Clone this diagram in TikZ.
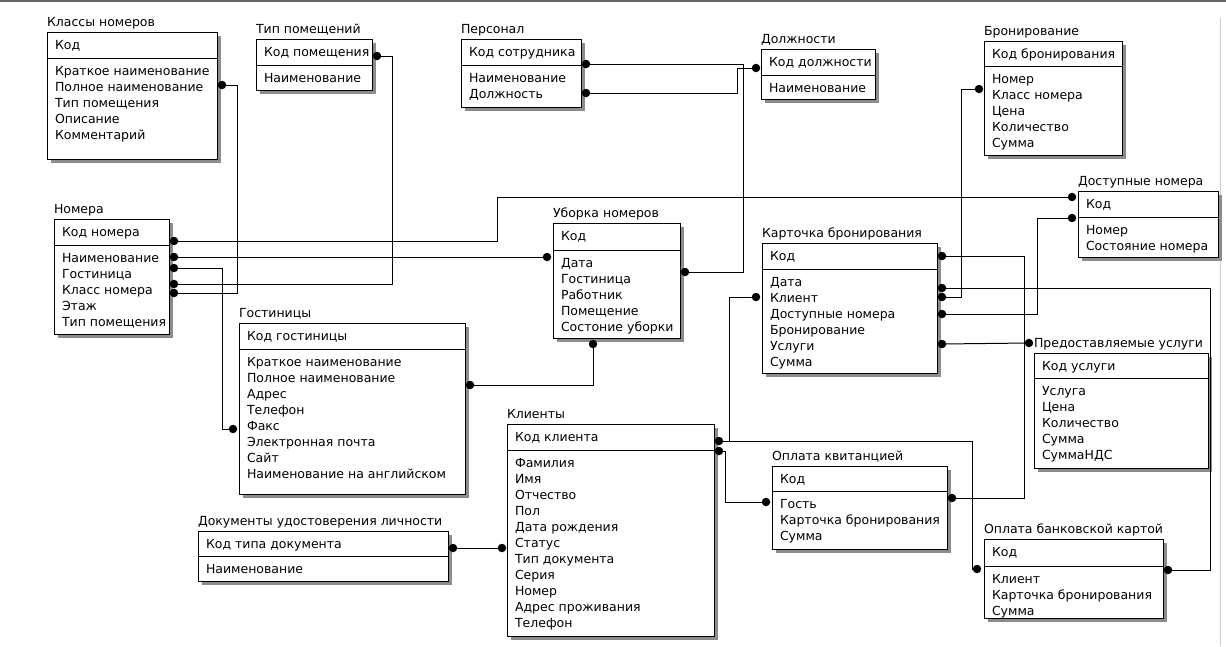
\documentclass[tikz,border=0pt]{standalone}
\usepackage{fontspec}
\setmainfont{DejaVu Sans}
\tikzset{
 tabbox/.style={draw, line width=1pt, fill=white, inner sep=0pt, outer sep=0pt},
 shadowc/.style={fill=black!45},
 txt/.style={inner sep=0pt, outer sep=0pt, anchor=base west, font=\fontsize{12.5}{16}\selectfont},
 dotn/.style={circle, fill=black, inner sep=0pt, outer sep=0pt, minimum size=8.5pt},
 conn/.style={line width=1pt},
}
\newcommand\ertab[9]{%
 \fill[shadowc] (#2+4,#3+4) rectangle (#4+4,#5+4);
 \node[tabbox, anchor=north west, minimum width={#4-#2}, minimum height={#5-#3}] (#1) at (#2,#3) {};
 \draw[line width=1pt] (#2,#6) -- (#4,#6);
 \node[txt] (#1-t) at (#2,#3-5.5) {#7};
 \node[txt] (#1-k) at (#2+8,#3+17.5) {#8};
 \foreach \t [count=\i from 0] in {#9}
   \node[txt] (#1-a\i) at (#2+8,#6+17.5+16*\i) {\t};
}
\begin{document}
\begin{tikzpicture}[x=1pt, y=-1pt]
\useasboundingbox (0,0) rectangle (1226,646);
\fill[white] (0,0) rectangle (1226,646);
\draw[black!60, line width=1.5pt] (0,1) -- (1226,1);
\draw[black!20, line width=1pt] (1220,18) -- (1220,646);

% tables
\ertab{klassy}{47}{32}{217}{159}{58}{Классы номеров}{Код}{Краткое наименование,Полное наименование,Тип помещения,Описание,Комментарий}
\ertab{tippom}{256}{39}{372}{90}{65}{Тип помещений}{Код помещения}{Наименование}
\ertab{personal}{461}{39}{581}{107}{65}{Персонал}{Код сотрудника}{Наименование,Должность}
\ertab{dolzh}{761}{49}{875}{99}{75}{Должности}{Код должности}{Наименование}
\ertab{bron}{984}{41}{1122}{155}{66}{Бронирование}{Код бронирования}{Номер,Класс номера,Цена,Количество,Сумма}
\ertab{dostup}{1078}{191}{1218}{257}{217}{Доступные номера}{Код}{Номер,Состояние номера}
\ertab{nomera}{54}{219}{169}{334}{245}{Номера}{Код номера}{Наименование,Гостиница,Класс номера,Этаж,Тип помещения}
\ertab{uborka}{553}{223}{680}{338}{250}{Уборка номеров}{Код}{Дата,Гостиница,Работник,Помещение,Состоние уборки}
\ertab{kart}{762}{243}{937}{373}{269}{Карточка бронирования}{Код}{Дата,Клиент,Доступные номера,Бронирование,Услуги,Сумма}
\ertab{uslugi}{1034}{353}{1208}{468}{378}{Предоставляемые услуги}{Код услуги}{Услуга,Цена,Количество,Сумма,СуммаНДС}
\ertab{gost}{239}{323}{465}{494}{349}{Гостиницы}{Код гостиницы}{Краткое наименование,Полное наименование,Адрес,Телефон,Факс,Электронная почта,Сайт,Наименование на английском}
\ertab{klienty}{507}{424}{714}{636}{450}{Клиенты}{Код клиента}{Фамилия,Имя,Отчество,Пол,Дата рождения,Статус,Тип документа,Серия,Номер,Адрес проживания,Телефон}
\ertab{kvit}{772}{466}{947}{549}{491}{Оплата квитанцией}{Код}{Гость,Карточка бронирования,Сумма}
\ertab{docs}{198}{531}{448}{581}{556}{Документы удостоверения личности}{Код типа документа}{Наименование}
\ertab{bank}{984}{539}{1163}{618}{566}{Оплата банковской картой}{Код}{Клиент,Карточка бронирования,Сумма}

% connection points
\coordinate (kl1) at (222,85);
\coordinate (tp1) at (377,56);
\coordinate (n1) at (174,241);
\coordinate (n2) at (174,257);
\coordinate (n3) at (174,268);
\coordinate (n4) at (174,284);
\coordinate (n5) at (174,293);
\coordinate (pe1) at (586,64);
\coordinate (pe2) at (586,93);
\coordinate (do1) at (756,68);
\coordinate (ub1) at (547,257);
\coordinate (ub2) at (685,272);
\coordinate (ub3) at (593,344);
\coordinate (go1) at (233,429);
\coordinate (go2) at (470,385);
\coordinate (ka1) at (942,256);
\coordinate (ka2) at (942,288);
\coordinate (ka3) at (942,297);
\coordinate (ka4) at (942,314);
\coordinate (ka5) at (942,344);
\coordinate (ka6) at (756,297);
\coordinate (br1) at (979,89);
\coordinate (ds1) at (1072,197);
\coordinate (ds2) at (1072,218);
\coordinate (us1) at (1029,343);
\coordinate (kv1) at (952,498);
\coordinate (kv2) at (766,502);
\coordinate (bk1) at (977,569);
\coordinate (bk2) at (1168,570);
\coordinate (kli1) at (719,441);
\coordinate (kli2) at (719,451);
\coordinate (kli3) at (502,548);
\coordinate (dc1) at (453,548);

% connectors
\draw[conn] (kl1) -- (237,85) -- (237,293) -- (n5);
\draw[conn] (tp1) -- (392,56) -- (392,284) -- (n4);
\draw[conn] (n1) -- (497,241) -- (497,197) -- (ds1);
\draw[conn] (n2) -- (ub1);
\draw[conn] (n3) -- (222,268) -- (222,429) -- (go1);
\draw[conn] (pe1) -- (743,64) -- (743,272) -- (ub2);
\draw[conn] (pe2) -- (737,93) -- (737,68) -- (do1);
\draw[conn] (ub3) -- (593,385) -- (go2);
\draw[conn] (ka1) -- (1024,256) -- (1024,498) -- (kv1);
\draw[conn] (ka2) -- (1210,288) -- (1210,570) -- (bk2);
\draw[conn] (ka3) -- (961,297) -- (961,89) -- (br1);
\draw[conn] (ka4) -- (1037,314) -- (1037,218) -- (ds2);
\draw[conn] (ka5) -- (us1);
\draw[conn] (kli1) -- (729,441) -- (729,297) -- (ka6);
\draw[conn] (kli1) -- (972,441) -- (972,569) -- (bk1);
\draw[conn] (kli2) -- (725,451) -- (725,502) -- (kv2);
\draw[conn] (dc1) -- (kli3);

% dots
\foreach \p in {kl1,tp1,n1,n2,n3,n4,n5,pe1,pe2,do1,ub1,ub2,ub3,go1,go2,ka1,ka2,ka3,ka4,ka5,ka6,br1,ds1,ds2,us1,kv1,kv2,bk1,bk2,kli1,kli2,kli3,dc1}
  \node[dotn] (\p-dot) at (\p) {};
\end{tikzpicture}
\end{document}
